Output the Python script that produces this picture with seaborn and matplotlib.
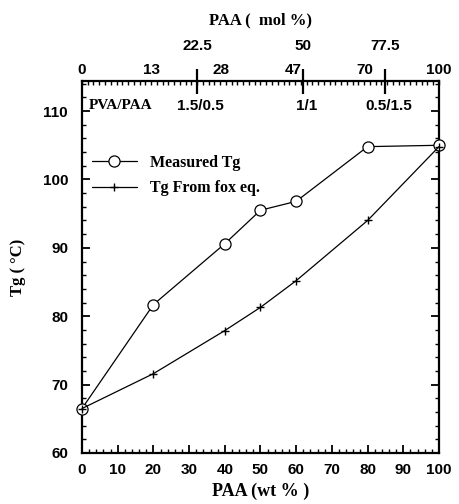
import numpy as np
import pandas as pd
import matplotlib
matplotlib.use("Agg")
import matplotlib.pyplot as plt
import seaborn as sns
from matplotlib.ticker import MultipleLocator

wt_paa = [0, 20, 40, 50, 60, 80, 100]
tg_measured = [66.5, 81.7, 90.6, 95.5, 96.8, 104.8, 105.0]
tg_fox = [66.5, 71.6, 77.9, 81.3, 85.2, 94.0, 104.8]

top_mol_labels = ["0", "13", "28", "47", "70", "100"]
top_label_wt = [0, 19.6, 38.9, 59.2, 79.2, 100]
ratio_mol = ["22.5", "50", "77.5"]
ratio_wt = [32.2, 62.0, 84.9]
ratio_labels = ["1.5/0.5", "1/1", "0.5/1.5"]

sns.set_theme(style="white")
plt.rcParams['font.family'] = ['Liberation Sans', 'DejaVu Sans']
plt.rcParams['text.color'] = 'black'
plt.rcParams['xtick.color'] = 'black'
plt.rcParams['ytick.color'] = 'black'
plt.rcParams['axes.labelcolor'] = 'black'

fig = plt.figure(figsize=(4.59, 5.04), dpi=100)
ax = fig.add_axes([0.1786, 0.1012, 0.7778, 0.7381])

df_m = pd.DataFrame({"x": wt_paa, "y": tg_measured})
df_f = pd.DataFrame({"x": wt_paa, "y": tg_fox})
sns.lineplot(data=df_m, x="x", y="y", ax=ax, color="black", lw=0.9,
             marker="o", markersize=8, markerfacecolor="white",
             markeredgewidth=0.9, mec="black", label="Measured Tg", zorder=6,
             clip_on=False)
sns.lineplot(data=df_f, x="x", y="y", ax=ax, color="black", lw=0.9,
             marker="+", markersize=6, markeredgewidth=1.0, mec="black",
             label="Tg From fox eq.", zorder=7, clip_on=False)

ax.set_xlim(0, 100)
ax.set_ylim(60, 114.4)
ax.xaxis.set_major_locator(MultipleLocator(10))
ax.xaxis.set_minor_locator(MultipleLocator(2))
ax.yaxis.set_minor_locator(MultipleLocator(2))
ax.set_yticks([60, 70, 80, 90, 100, 110])
ax.tick_params(which="major", direction="in", length=6, width=1.3,
               left=True, right=True, bottom=True, top=False,
               labelsize=11, pad=7)
ax.tick_params(axis="y", which="major", pad=10)
ax.tick_params(which="minor", direction="in", length=3, width=1.0,
               left=True, right=True, bottom=True, top=False)
for lab in ax.get_xticklabels() + ax.get_yticklabels():
    lab.set_fontweight("bold")
for s in ax.spines.values():
    s.set_linewidth(1.6)
    s.set_color("black")
    s.set_zorder(5)

ax.set_xlabel("PAA (wt % )", fontfamily="Liberation Serif", fontweight="bold",
              fontsize=13, labelpad=4)
ax.set_ylabel("Tg ( °C)", fontfamily="Liberation Serif", fontweight="bold",
              fontsize=12, labelpad=12)

# top secondary axis
top = ax.twiny()
top.set_xlim(0, 100)
top.set_xticks(np.arange(0, 100.1, 100 / 62.0), minor=True)
top.set_xticks(ratio_wt)
top.set_xticklabels([])
top.tick_params(which="minor", direction="in", length=3, width=1.0, top=True)
top.tick_params(which="major", direction="inout", length=18, width=1.6, top=True)
for s in top.spines.values():
    s.set_visible(False)
for x, t in zip(top_label_wt, top_mol_labels):
    ax.annotate(t, xy=(x, 1), xycoords=("data", "axes fraction"),
                xytext=(0, 8), textcoords="offset points", ha="center",
                va="center", fontsize=11, fontweight="bold")
for x, t in zip(ratio_wt, ratio_mol):
    ax.annotate(t, xy=(x, 1), xycoords=("data", "axes fraction"),
                xytext=(0, 25), textcoords="offset points", ha="center",
                va="center", fontsize=11, fontweight="bold")
ax.text(0.5, 1.164, "PAA (  mol %)", transform=ax.transAxes, ha="center",
        va="center", fontfamily="Liberation Serif", fontweight="bold", fontsize=12)

ax.text(2, 110.8, "PVA/PAA", fontfamily="Liberation Serif", fontweight="bold",
        fontsize=11, va="center", ha="left")
for x, t in zip(ratio_wt, ratio_labels):
    ax.text(x + 1, 110.8, t, fontweight="bold", fontsize=11, va="center", ha="center")

ax.legend(loc="upper left", bbox_to_anchor=(-0.012, 0.84), frameon=False,
          prop={"family": "Liberation Serif", "weight": "bold", "size": 11.5},
          handlelength=2.8, labelspacing=0.6)

fig.savefig("out.png", dpi=100)
